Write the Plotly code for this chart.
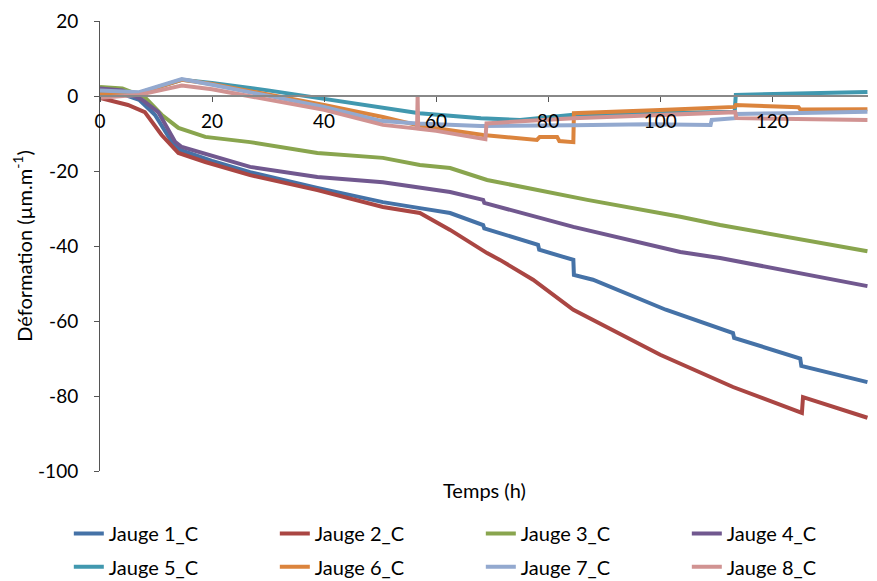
import plotly.graph_objects as go

# ---- data ----
t1 = [0, 4, 7, 9.8, 12.8, 14.3, 20, 26.8, 38.8, 50.5, 57.1, 62.5, 68.4, 68.6, 78.2, 78.4, 84.5, 84.6, 88, 101, 113, 113.2, 125, 125.2, 137]
v1 = [1.2, 0.5, -1, -5, -12.2, -14.4, -17.3, -20.3, -24.5, -28.3, -29.9, -31.2, -34.4, -35.3, -39.7, -41, -43.7, -47.7, -49, -57, -63.2, -64.5, -70, -72, -76.3]

t2 = [0, 5, 8, 11, 14, 18.8, 26.8, 38.8, 50.5, 57.1, 62.5, 69.1, 71.4, 77.3, 84.5, 100, 113, 125.3, 125.5, 137]
v2 = [-0.5, -2.4, -4.3, -10.4, -15.2, -17.6, -21.1, -25.1, -29.6, -31.2, -35.7, -41.9, -43.7, -49, -57, -69, -77.6, -84.5, -80.3, -85.8]

t3 = [0, 4, 8, 11, 14, 16, 18.8, 26.8, 38.8, 50.5, 57.1, 62.5, 69.1, 87, 103.6, 110.7, 137]
v3 = [2.4, 2, -0.3, -5, -8.5, -9.6, -10.9, -12.3, -15.2, -16.5, -18.4, -19.2, -22.4, -27.7, -32.2, -34.4, -41.4]

t4 = [0, 4, 7.5, 10.4, 13.4, 14.6, 26.8, 38.8, 50.5, 57.1, 62.5, 68.4, 68.6, 84.5, 103.6, 110.7, 137]
v4 = [2, 1.5, -1, -4.3, -12.2, -13.6, -18.9, -21.6, -23, -24.3, -25.6, -27.7, -28.5, -34.9, -41.6, -43.2, -50.7]

t5 = [0, 7, 14.6, 20, 30, 40, 50.5, 57, 68, 75, 84.5, 100, 113.3, 113.5, 125, 137]
v5 = [0.5, 0.8, 4.3, 3.5, 1.5, -0.8, -3.2, -4.6, -5.9, -6.4, -5.0, -4.6, -4.2, 0.3, 0.8, 1.1]

t6 = [0, 7, 14.6, 20, 40, 50.5, 57, 68.4, 78, 78.5, 81.6, 82, 84.5, 84.6, 100, 113.3, 113.5, 120, 124.7, 125, 137]
v6 = [0.5, 0.8, 4.3, 3.2, -2.4, -5.6, -7.9, -10.4, -11.7, -10.9, -10.9, -12, -12.3, -4.6, -3.7, -2.9, -2.4, -2.6, -3.0, -3.6, -3.5]

t7 = [0, 7, 14.6, 20, 40, 50, 56.6, 68, 84.5, 97.7, 109, 109.2, 113.4, 113.6, 122.7, 137]
v7 = [1.5, 1.0, 4.5, 3.0, -2.9, -6.6, -7.3, -8, -7.8, -7.5, -7.7, -6.4, -5.9, -4.8, -4.6, -4.2]

t8 = [0, 7, 14.6, 20, 40, 50.5, 56.6, 56.7, 56.8, 60, 68.8, 69, 84.5, 100, 113.4, 113.6, 125, 137]
v8 = [-0.5, 0.3, 2.8, 1.8, -3.7, -7.7, -8.7, 0, -8.7, -9.3, -11.5, -7.3, -5.9, -5.1, -4.3, -5.9, -6.2, -6.4]

names = ["Jauge 1_C", "Jauge 2_C", "Jauge 3_C", "Jauge 4_C",
         "Jauge 5_C", "Jauge 6_C", "Jauge 7_C", "Jauge 8_C"]
times = [t1, t2, t3, t4, t5, t6, t7, t8]
values = [v1, v2, v3, v4, v5, v6, v7, v8]
colors = ["#4572A7", "#AA4643", "#89A54E", "#71588F",
          "#4198AF", "#DB843D", "#93A9CF", "#D19392"]

x_ticks = [0, 20, 40, 60, 80, 100, 120]
y_ticks = [20, 0, -20, -40, -60, -80, -100]

FONT = "Lato, 'Open Sans', sans-serif"

fig = go.Figure()
for i in range(8):
    fig.add_trace(go.Scatter(
        x=times[i], y=values[i], mode="lines", name=names[i],
        line=dict(color=colors[i], width=4),
        legend="legend" if i < 4 else "legend2",
    ))

leg_common = dict(orientation="h", x=-0.0406, xanchor="left", yanchor="middle",
                  entrywidth=161, entrywidthmode="pixels",
                  font=dict(size=20), bgcolor="rgba(0,0,0,0)", tracegroupgap=0)

fig.update_layout(
    width=869, height=573,
    margin=dict(l=92, r=9, t=13, b=110, autoexpand=False),
    paper_bgcolor="white", plot_bgcolor="white",
    font=dict(family=FONT, size=20, color="#000000"),
    showlegend=True,
    legend=dict(y=-0.139, **leg_common),
    legend2=dict(y=-0.213, **leg_common),
    xaxis=dict(range=[0, 137.1], tickvals=x_ticks, ticktext=[str(v) for v in x_ticks],
               showline=True, linecolor="#888888", linewidth=1.5,
               ticks="outside", ticklen=5, tickcolor="#555555",
               showgrid=False, zeroline=False, anchor="free", position=100 / 120,
               tickfont=dict(size=19), ticklabelstandoff=3),
    yaxis=dict(range=[-100, 20], tickvals=y_ticks, ticktext=[str(v) for v in y_ticks],
               showline=True, linecolor="#555555", linewidth=1,
               ticks="outside", ticklen=5, tickcolor="#555555",
               showgrid=False, zeroline=False,
               tickfont=dict(size=19), ticklabelstandoff=12,
               title=dict(text="Déformation (µm.m<sup>-1</sup>)", standoff=0,
                          font=dict(size=20))),
    annotations=[dict(text="Temps (h)", x=0.5007, y=-0.042, xref="paper", yref="paper",
                      showarrow=False, xanchor="center", yanchor="middle",
                      font=dict(size=20))],
)

fig.write_html("out.html")
